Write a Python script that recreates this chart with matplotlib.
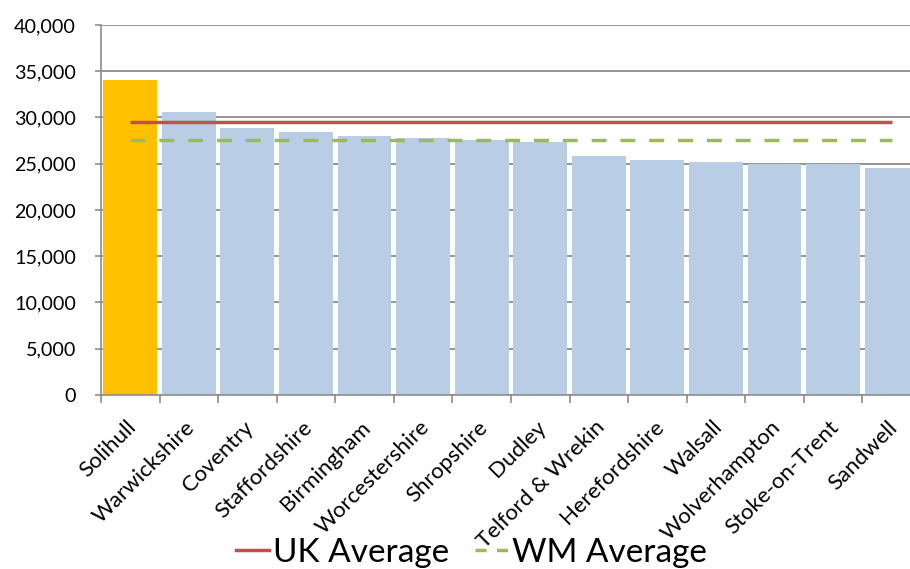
import matplotlib
matplotlib.use("Agg")
import matplotlib.pyplot as plt
import matplotlib.transforms as mtransforms
import numpy as np
from matplotlib.lines import Line2D
from matplotlib.ticker import FuncFormatter

# data
areas = ["Solihull", "Warwickshire", "Coventry", "Staffordshire", "Birmingham",
         "Worcestershire", "Shropshire", "Dudley", "Telford & Wrekin",
         "Herefordshire", "Walsall", "Wolverhampton", "Stoke-on-Trent", "Sandwell"]
values = [34050, 30550, 28850, 28450, 27980, 27760, 27540, 27320, 25800,
          25380, 25150, 24960, 24960, 24520]
uk_average = 29500
wm_average = 27550
highlight = "Solihull"

plt.rcParams["font.family"] = ["Lato", "DejaVu Sans"]

GRID = "#8c8c8c"

fig = plt.figure(figsize=(9.1, 5.69), dpi=100)
ax = fig.add_axes([0.111, 0.306, 0.901, 0.650])

x = np.arange(len(areas))
colors = ["#FFC000" if a == highlight else "#B9CDE5" for a in areas]
ax.bar(x, values, width=0.92, color=colors, zorder=2)
ax.plot(x, [uk_average] * len(x), color="#C0504D", lw=2.5, zorder=3,
        solid_capstyle="butt")
ax.plot(x, [wm_average] * len(x), color="#9BBB59", lw=2.5, ls=(0, (4.3, 4.0)),
        zorder=3)

ax.set_xlim(-0.5, len(areas) - 0.5)
ax.set_ylim(0, 40000)
ax.set_yticks(np.arange(0, 40001, 5000))
ax.yaxis.set_major_formatter(FuncFormatter(lambda v, p: f"{int(v):,}"))
ax.grid(axis="y", color=GRID, lw=1.3, zorder=1)

ax.set_xticks(x)
ax.set_xticklabels(areas, rotation=45, ha="right", rotation_mode="anchor", fontsize=16)
ax.set_xticks(np.arange(-0.5, len(areas), 1), minor=True)
ax.tick_params(axis="x", which="major", length=0, pad=16)
ax.tick_params(axis="x", which="minor", length=6, color=GRID, width=1.2)
ax.tick_params(axis="y", length=4, color=GRID, width=1.2, labelsize=14.2, pad=14)

# nudge the rotated labels a little to the left, as in the source chart
shift = mtransforms.ScaledTranslation(-4 / 100, 0, fig.dpi_scale_trans)
for lbl in ax.get_xticklabels():
    lbl.set_transform(lbl.get_transform() + shift)

for side in ["top", "right"]:
    ax.spines[side].set_visible(False)
for side in ["left", "bottom"]:
    ax.spines[side].set_color(GRID)
    ax.spines[side].set_linewidth(1.2)

handles = [Line2D([], [], color="#C0504D", lw=2.5),
           Line2D([], [], color="#9BBB59", lw=2.5, ls=(0, (3.2, 3.0)))]
fig.legend(handles, ["UK Average", "WM Average"], loc="center",
           bbox_to_anchor=(0.518, 0.028), ncol=2, frameon=False, fontsize=24,
           handlelength=1.0, handletextpad=0.1, columnspacing=0.8,
           borderpad=0.0)

fig.savefig("out.png", dpi=100)
